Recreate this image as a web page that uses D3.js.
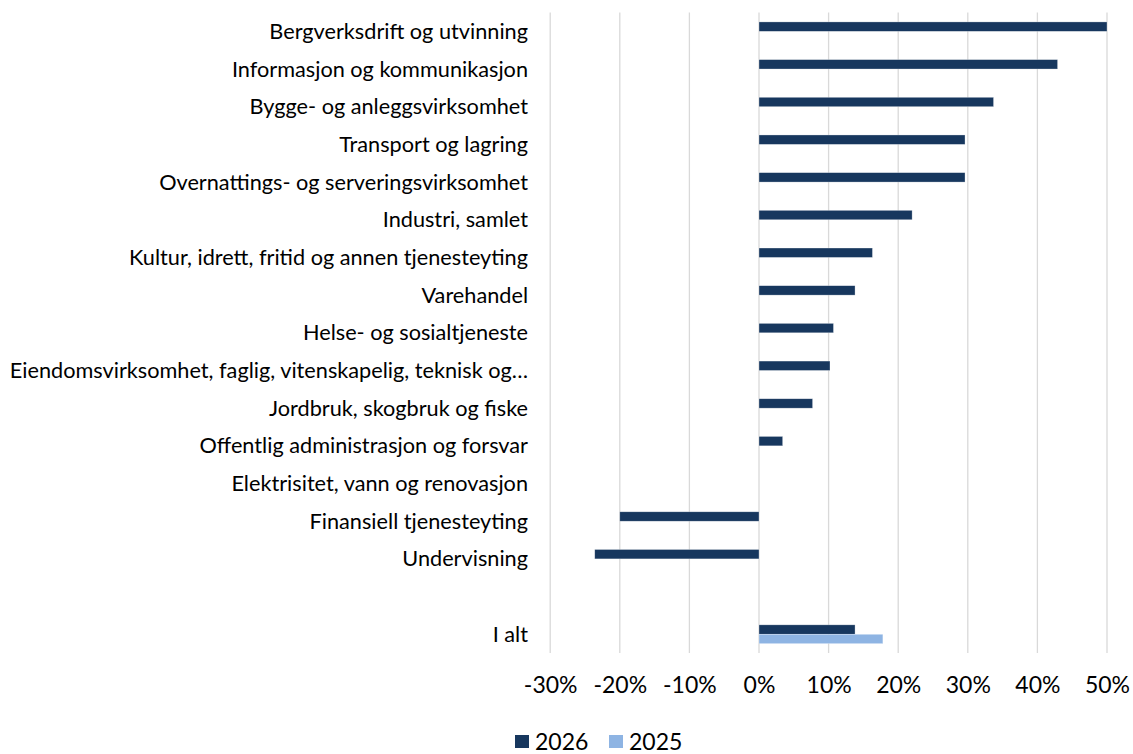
<!DOCTYPE html>
<html>
<head>
<meta charset="utf-8">
<script src="https://cdn.jsdelivr.net/npm/d3@7"></script>
<style>
  body { margin: 0; background: #fff; }
  text { font-family: Lato, "Open Sans", sans-serif; fill: #000; }
</style>
</head>
<body>
<svg id="chart" width="1133" height="754"></svg>
<script>
// categories top to bottom, " " is the empty row before the total
let categories = [
    "Bergverksdrift og utvinning",
    "Informasjon og kommunikasjon",
    "Bygge- og anleggsvirksomhet",
    "Transport og lagring",
    "Overnattings- og serveringsvirksomhet",
    "Industri, samlet",
    "Kultur, idrett, fritid og annen tjenesteyting",
    "Varehandel",
    "Helse- og sosialtjeneste",
    "Eiendomsvirksomhet, faglig, vitenskapelig, teknisk og…",
    "Jordbruk, skogbruk og fiske",
    "Offentlig administrasjon og forsvar",
    "Elektrisitet, vann og renovasjon",
    "Finansiell tjenesteyting",
    "Undervisning",
    " ",
    "I alt"
]
let series = ["2026", "2025"]
let values2026 = [50.0, 42.9, 33.7, 29.6, 29.6, 22.0, 16.3, 13.8, 10.7, 10.2, 7.7, 3.4, 0, -20.0, -23.6, null, 13.8]
let values2025 = [null, null, null, null, null, null, null, null, null, null, null, null, null, null, null, null, 17.8]
let ticks = [-30, -20, -10, 0, 10, 20, 30, 40, 50]
let colors = { "2026": "#17375e", "2025": "#8eb4e3" }

let svg = d3.select("#chart");

let x = d3.scaleLinear().domain([-30, 50]).range([550.2, 1107]);

let y = d3.scaleBand()
    .domain(categories)
    .range([12.5, 653.1])
    .paddingInner(0.5)
    .paddingOuter(0.25);

let sub = d3.scaleBand().domain(series).range([0, y.bandwidth()]);

// gridlines
svg.append("g")
    .selectAll("line")
    .data(ticks).enter()
    .append("line")
    .attr("x1", d => x(d)).attr("x2", d => x(d))
    .attr("y1", 12.5).attr("y2", 653.1)
    .attr("stroke", "#d9d9d9")
    .attr("stroke-width", 1.3);

// bars
let rows = categories.map((c, i) => ({ cat: c, vals: [
    { s: "2026", v: values2026[i] },
    { s: "2025", v: values2025[i] }
]}));

svg.append("g")
    .selectAll("g")
    .data(rows).enter()
    .append("g")
    .attr("transform", d => "translate(0," + y(d.cat) + ")")
    .selectAll("rect")
    .data(d => d.vals.filter(v => v.v !== null))
    .enter()
    .append("rect")
    .attr("x", d => x(Math.min(0, d.v)))
    .attr("width", d => Math.abs(x(d.v) - x(0)))
    .attr("y", d => sub(d.s))
    .attr("height", sub.bandwidth())
    .attr("fill", d => colors[d.s])
    .attr("stroke", "#ffffff")
    .attr("stroke-opacity", 0.5)
    .attr("stroke-width", 0.6);

// category labels
svg.append("g")
    .selectAll("text")
    .data(categories).enter()
    .append("text")
    .attr("x", 528)
    .attr("y", d => y(d) + y.bandwidth() / 2)
    .attr("dy", "0.35em")
    .attr("text-anchor", "end")
    .style("font-size", "21.7px")
    .text(d => d.trim());

// x axis, labels only
let xAxis = svg.append("g")
    .attr("transform", "translate(0,653.1)")
    .call(d3.axisBottom(x).tickValues(ticks).tickSize(0).tickPadding(24).tickFormat(d => d + "%"));
xAxis.select(".domain").remove();
xAxis.selectAll("text")
    .style("font-size", "23px")
    .style("font-family", "Lato, 'Open Sans', sans-serif")
    .attr("fill", "#000");

// legend
let legend = svg.append("g")
    .selectAll("g")
    .data(series).enter()
    .append("g")
    .attr("transform", (d, i) => "translate(" + (515 + i * 94) + ",735)");

legend.append("rect")
    .attr("width", 14).attr("height", 13)
    .attr("fill", d => colors[d]);

legend.append("text")
    .attr("x", 20)
    .attr("y", 6.5)
    .attr("dy", "0.35em")
    .style("font-size", "23px")
    .text(d => d);
</script>
</body>
</html>
